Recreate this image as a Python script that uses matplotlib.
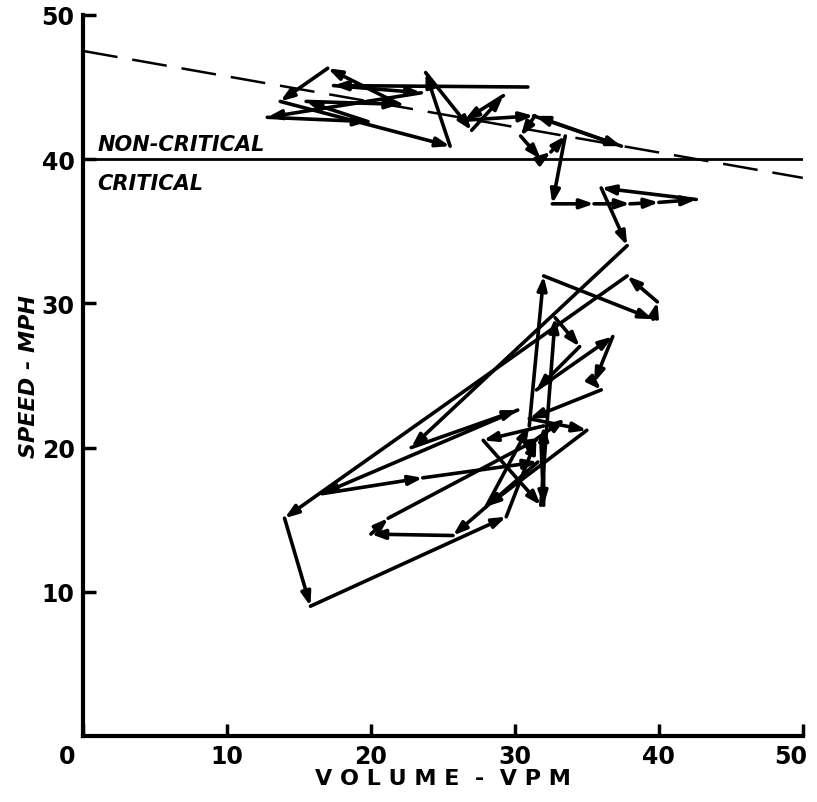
import matplotlib.pyplot as plt
import matplotlib.transforms as mtransforms
import numpy as np

# path of (volume, speed) points in order
volume = [30.9, 17.4, 23.5, 12.8, 19.8, 15.5, 22.0, 17.0, 13.7, 25.5,
          23.8, 27.0, 29.2, 26.5, 31.3, 37.4, 31.4, 30.4, 31.8, 32.5,
          33.5, 32.6, 35.5, 38.0, 40.0, 42.6, 36.0, 37.8,
          22.8, 30.2, 16.6, 23.6, 31.6, 25.7, 20.0, 21.2, 31.8, 32.0,
          32.0, 27.8, 31.8, 32.8, 34.5, 31.5, 36.8, 35.5, 36.0, 31.0,
          35.0, 28.0, 31.0, 32.0, 39.6, 39.9, 37.8, 14.0, 15.8, 29.4,
          31.5, 33.5]
speed = [45.0, 45.1, 44.6, 42.9, 42.6, 44.0, 43.8, 46.3, 44.0, 40.9,
         46.0, 42.0, 44.4, 42.7, 43.0, 40.9, 43.0, 41.6, 40.0, 40.5,
         41.6, 36.9, 36.9, 36.9, 37.0, 37.2, 38.0, 34.0,
         20.0, 22.6, 16.8, 17.9, 19.0, 13.9, 14.0, 15.1, 20.7, 16.0,
         21.5, 20.5, 16.0, 29.0, 27.0, 24.0, 27.7, 24.5, 24.0, 22.0,
         21.2, 15.9, 21.5, 31.9, 28.9, 30.1, 31.9, 15.1, 9.0, 15.2,
         20.6, 22.0]

x_ticks = [0, 10, 20, 30, 40, 50]
y_ticks = [10, 20, 30, 40, 50]

fig = plt.figure(figsize=(8.17, 8.03), dpi=100)
ax = fig.add_axes([0.1016, 0.0822, 0.881, 0.898])

# trajectory arrows
for i in range(len(volume) - 1):
    ax.annotate('', xy=(volume[i + 1], speed[i + 1]), xytext=(volume[i], speed[i]),
                arrowprops=dict(arrowstyle='-|>,head_length=0.8,head_width=0.28',
                                color='black', lw=2.6, shrinkA=0, shrinkB=0))

# critical boundary and dashed line
ax.plot([0, 50], [40, 40], color='black', lw=2)
ax.plot([0, 50], [47.5, 38.7], color='black', lw=1.8, dashes=(14, 6))

ax.text(1, 40.6, 'NON-CRITICAL', fontsize=15, fontweight='bold', style='italic')
ax.text(1, 37.9, 'CRITICAL', fontsize=15, fontweight='bold', style='italic')

ax.set_xlim(0, 50)
ax.set_ylim(0, 50)
for side in ['top', 'right']:
    ax.spines[side].set_visible(False)
for side in ['left', 'bottom']:
    ax.spines[side].set_linewidth(3)

ax.set_xticks(x_ticks)
ax.set_yticks(y_ticks)
ax.tick_params(direction='in', length=9, width=2.5, labelsize=17, pad=6)
for lab in ax.get_xticklabels() + ax.get_yticklabels():
    lab.set_fontweight('bold')

# nudge first and last x labels like the original
xlabs = ax.get_xticklabels()
xlabs[0].set_transform(xlabs[0].get_transform() +
                       mtransforms.ScaledTranslation(-0.16, 0, fig.dpi_scale_trans))
xlabs[-1].set_transform(xlabs[-1].get_transform() +
                        mtransforms.ScaledTranslation(-0.12, 0, fig.dpi_scale_trans))

ax.set_xlabel('V O L U M E  -  V P M', fontsize=16, fontweight='bold', labelpad=0)
ax.set_ylabel('SPEED - MPH', fontsize=16, fontweight='bold', style='italic', labelpad=2)

fig.savefig('out.png', dpi=100, facecolor='white')
